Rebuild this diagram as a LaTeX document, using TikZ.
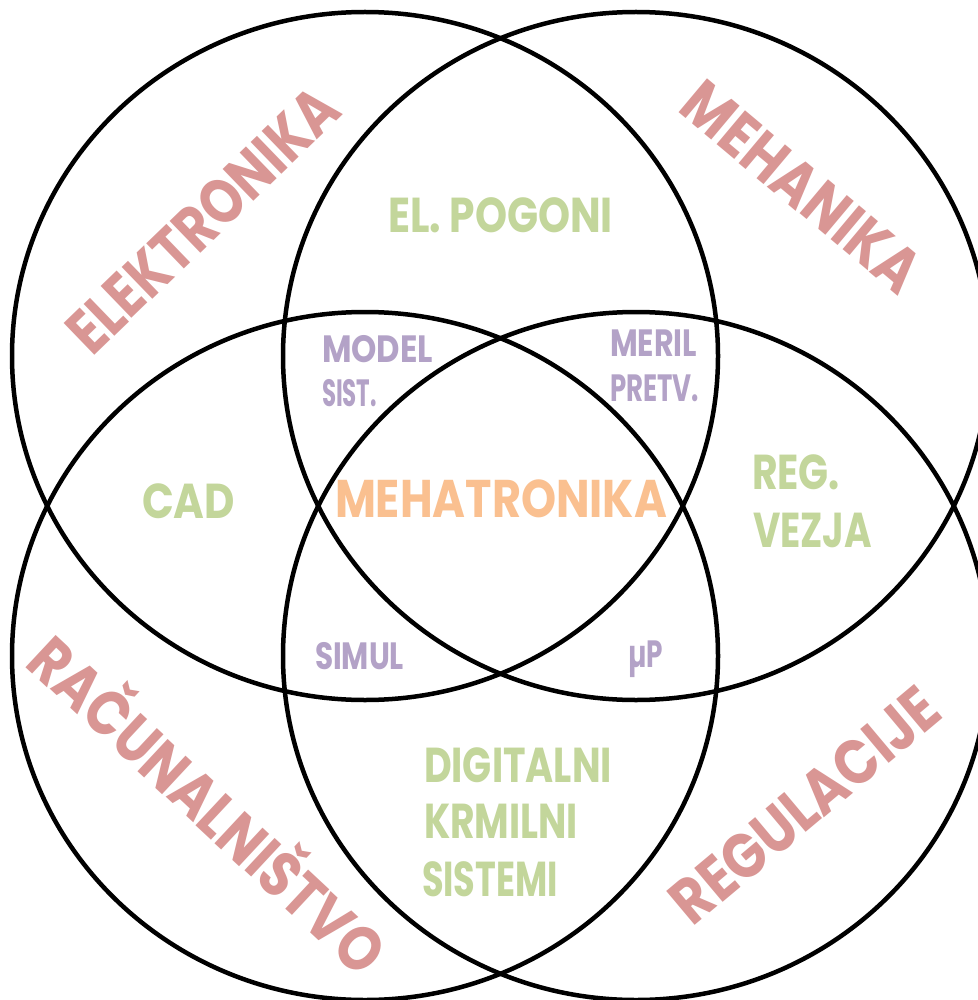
\documentclass[tikz,border=0pt]{standalone}
\usepackage{fontspec}
\setmainfont{Poppins}
\usepackage{graphicx}
\definecolor{redc}{HTML}{D99694}
\definecolor{greenc}{HTML}{C3D69B}
\definecolor{purplec}{HTML}{B3A2C7}
\definecolor{orangec}{HTML}{FAC090}
\newsavebox\fitbox
\newlength\fitlen
\newcommand\fitw[2]{\sbox\fitbox{#2}\setlength\fitlen{\wd\fitbox}\pgfmathsetmacro\fitratio{#1/\fitlen}\scalebox{\fitratio}[1]{\usebox\fitbox}}
\begin{document}
\begin{tikzpicture}[x=1pt,y=-1pt,
  ring/.style={draw=black, line width=4.5pt},
  lbl/.style={inner sep=0pt, outer sep=0pt},
  bigred/.style={lbl, text=redc, font=\bfseries\fontsize{63}{63}\selectfont, anchor=base},
  core/.style={lbl, text=orangec, font=\bfseries\fontsize{53}{53}\selectfont, anchor=base west},
  pair/.style={lbl, text=greenc, font=\bfseries\fontsize{49}{49}\selectfont, anchor=base west},
  triple/.style={lbl, text=purplec, font=\bfseries\fontsize{38}{38}\selectfont, anchor=base west}]
\useasboundingbox (0,0) rectangle (977,1000);
\fill[white] (0,0) rectangle (977,1000);
% circles
\draw[ring] (365,356) ellipse [x radius=353pt, y radius=344pt];
\draw[ring] (636,356) ellipse [x radius=353pt, y radius=344pt];
\draw[ring] (365,656) ellipse [x radius=353pt, y radius=344pt];
\draw[ring] (636,656) ellipse [x radius=353pt, y radius=344pt];
% disciplines
\node[bigred, rotate=44] (elek) at (218,236) {\fitw{350}{ELEKTRONIKA}};
\node[bigred, rotate=-40] (meh) at (788,204) {\fitw{290}{MEHANIKA}};
\node[bigred, rotate=-43] (rac) at (192,822) {\fitw{460}{RAČUNALNIŠTVO}};
\node[bigred, rotate=40] (reg) at (819,822) {\fitw{329}{REGULACIJE}};
% pairs
\node[pair] (pog) at (388,233) {\fitw{225}{EL. POGONI}};
\node[pair] (cad) at (142,518) {\fitw{93}{CAD}};
\node[pair] (rv1) at (752,489) {\fitw{88}{REG.}};
\node[pair] (rv2) at (753,547) {\fitw{119}{VEZJA}};
\node[pair] (dk1) at (424,782) {\fitw{188}{DIGITALNI}};
\node[pair] (dk2) at (424,838) {\fitw{154}{KRMILNI}};
\node[pair] (dk3) at (422,896) {\fitw{136}{SISTEMI}};
% triples
\node[triple] (ms1) at (322,362) {\fitw{111}{MODEL}};
\node[triple] (ms2) at (322,406) {\fitw{55}{SIST.}};
\node[triple] (mp1) at (610,356) {\fitw{87}{MERIL}};
\node[triple] (mp2) at (610,401) {\fitw{89}{PRETV.}};
\node[triple] (sim) at (315,669) {\fitw{89}{SIMUL}};
\node[triple] (up) at (628,667) {\fitw{35}{µP}};
% centre
\node[core] (mech) at (335,517) {\fitw{332}{MEHATRONIKA}};
\end{tikzpicture}
\end{document}
